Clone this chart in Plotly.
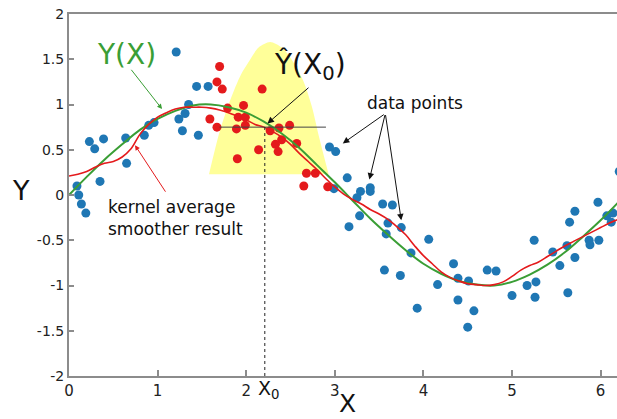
import plotly.graph_objects as go

# ---- data ----
blue_x = [0.09, 0.11, 0.14, 0.19, 0.23, 0.29, 0.39, 0.35, 0.64, 0.65, 0.85, 0.90, 0.96,
          1.21, 1.44, 1.57, 1.35, 1.31, 1.24, 1.28, 1.46,
          2.94, 3.01, 2.99, 3.14, 3.29, 3.25, 3.40, 3.40, 3.54, 3.65, 3.28, 3.16, 3.60, 3.58,
          3.75, 3.86, 4.06, 3.56, 3.74, 3.93, 4.16, 4.34, 4.39, 4.51, 4.39, 4.57, 4.50, 4.72,
          4.82, 5.00, 5.17, 5.26, 5.27, 5.25, 5.46, 5.54, 5.62, 5.63, 5.71, 5.65, 5.71, 5.87,
          5.88, 5.98, 5.97, 6.07, 6.14, 6.12, 6.21]
blue_y = [0.10, 0.00, -0.10, -0.20, 0.59, 0.51, 0.62, 0.15, 0.63, 0.35, 0.66, 0.77, 0.80,
          1.58, 1.20, 1.20, 1.00, 0.90, 0.84, 0.71, 0.66,
          0.53, 0.48, 0.07, 0.19, 0.04, -0.03, 0.08, 0.04, -0.10, -0.11, -0.23, -0.35, -0.31, -0.43,
          -0.36, -0.64, -0.49, -0.83, -0.89, -1.25, -0.99, -0.76, -0.92, -0.95, -1.16, -1.28, -1.46, -0.83,
          -0.84, -1.11, -1.00, -1.13, -0.96, -0.50, -0.63, -0.78, -0.56, -1.08, -0.69, -0.30, -0.18, -0.50,
          -0.55, -0.50, -0.08, -0.23, -0.20, -0.30, 0.26]

red_x = [1.70, 1.67, 1.73, 1.59, 1.67, 1.79, 1.97, 1.91, 1.99, 1.99, 1.89, 1.90, 2.14,
         2.18, 2.27, 2.37, 2.49, 2.40, 2.33, 2.36, 2.57, 2.68, 2.78, 2.65, 2.92]
red_y = [1.42, 1.25, 1.17, 0.84, 0.75, 0.96, 0.99, 0.86, 0.86, 0.77, 0.73, 0.40, 0.50,
         1.17, 0.71, 0.74, 0.77, 0.61, 0.56, 0.48, 0.57, 0.24, 0.24, 0.10, 0.09]

true_x = [0.0, 0.2, 0.4, 0.6, 0.8, 1.0, 1.2, 1.4, 1.6, 1.8, 2.0, 2.2, 2.4, 2.6, 2.8, 3.0,
          3.2, 3.4, 3.6, 3.8, 4.0, 4.2, 4.4, 4.6, 4.8, 5.0, 5.2, 5.4, 5.6, 5.8, 6.0, 6.2]
true_y = [0.00, 0.20, 0.39, 0.56, 0.72, 0.84, 0.93, 0.99, 1.00, 0.97, 0.91, 0.81, 0.68, 0.52,
          0.33, 0.14, -0.06, -0.26, -0.44, -0.61, -0.76, -0.87, -0.95, -0.99, -1.00, -0.96,
          -0.88, -0.77, -0.63, -0.46, -0.28, -0.08]

smooth_x = [0.0, 0.1, 0.2, 0.3, 0.4, 0.5, 0.6, 0.7, 0.8, 0.9, 1.0, 1.1, 1.2, 1.3, 1.4, 1.5,
            1.6, 1.7, 1.8, 1.9, 2.0, 2.1, 2.2, 2.3, 2.4, 2.5, 2.6, 2.7, 2.8, 2.9, 3.0, 3.1,
            3.2, 3.3, 3.4, 3.5, 3.6, 3.7, 3.8, 3.9, 4.0, 4.1, 4.2, 4.3, 4.4, 4.5, 4.6, 4.7,
            4.8, 4.9, 5.0, 5.1, 5.2, 5.3, 5.4, 5.5, 5.6, 5.7, 5.8, 5.9, 6.0, 6.1, 6.2]
smooth_y = [0.21, 0.23, 0.26, 0.31, 0.35, 0.37, 0.42, 0.51, 0.67, 0.78, 0.86, 0.91, 0.95,
            0.97, 0.97, 0.97, 0.96, 0.94, 0.91, 0.87, 0.83, 0.78, 0.75, 0.70, 0.64, 0.56,
            0.46, 0.37, 0.28, 0.18, 0.09, 0.01, -0.05, -0.10, -0.16, -0.21, -0.27, -0.35,
            -0.44, -0.56, -0.67, -0.76, -0.85, -0.91, -0.95, -0.98, -0.99, -1.00, -0.99,
            -0.96, -0.90, -0.83, -0.78, -0.74, -0.68, -0.62, -0.56, -0.51, -0.46, -0.41,
            -0.36, -0.31, -0.27]

kernel_x = [1.58, 1.70, 1.82, 1.94, 2.04, 2.14, 2.27, 2.40, 2.49, 2.64, 2.74, 2.83, 2.93]
kernel_y = [0.23, 0.70, 1.05, 1.33, 1.49, 1.63, 1.69, 1.63, 1.53, 1.27, 0.98, 0.61, 0.23]

x0 = 2.21
y0_hat = 0.75
window = [1.70, 2.90]

x_ticks = [0, 1, 2, 3, 4, 5, 6]
x_tick_text = ["0", "1", "2", "3", "4", "5", "6"]
y_ticks = [2, 1.5, 1, 0.5, 0, -0.5, -1, -1.5, -2]
y_tick_text = ["2", "1.5", "1", "0.5", "0", "-0.5", "-1", "-1.5", "-2"]

FONT = "DejaVu Sans"
BLUE = "#1f77b4"
RED = "#e41a1c"
GREEN = "#3a9e35"

fig = go.Figure()
fig.add_trace(go.Scatter(x=kernel_x, y=kernel_y, mode="lines", fill="toself",
                         fillcolor="#ffff99", line=dict(width=0, shape="spline", smoothing=0.8),
                         hoverinfo="skip"))
fig.add_trace(go.Scatter(x=blue_x, y=blue_y, mode="markers",
                         marker=dict(color=BLUE, size=9, line=dict(width=0))))
fig.add_trace(go.Scatter(x=red_x, y=red_y, mode="markers",
                         marker=dict(color=RED, size=9, line=dict(width=0))))
fig.add_trace(go.Scatter(x=true_x, y=true_y, mode="lines",
                         line=dict(color=GREEN, width=2, shape="spline")))
fig.add_trace(go.Scatter(x=smooth_x, y=smooth_y, mode="lines",
                         line=dict(color=RED, width=1.6, shape="spline")))

# horizontal estimate line and dashed vertical at X0
fig.add_shape(type="line", x0=window[0], x1=window[1], y0=y0_hat, y1=y0_hat,
              line=dict(color="#444", width=1))
fig.add_shape(type="line", x0=x0, x1=x0, y0=-2, y1=y0_hat,
              line=dict(color="#222", width=1, dash="dot"))

ann = []
ann.append(dict(x=1.05, y=0.95, ax=0.69, ay=1.40, axref="x", ayref="y", xref="x", yref="y",
                text="", showarrow=True, arrowhead=2, arrowsize=1, arrowwidth=1, arrowcolor=GREEN))
ann.append(dict(x=0.745, y=0.55, ax=1.10, ay=0.02, axref="x", ayref="y", xref="x", yref="y",
                text="", showarrow=True, arrowhead=2, arrowsize=1, arrowwidth=1, arrowcolor=RED))
ann.append(dict(x=2.24, y=0.79, ax=2.72, ay=1.20, axref="x", ayref="y", xref="x", yref="y",
                text="", showarrow=True, arrowhead=2, arrowsize=1.3, arrowwidth=1, arrowcolor="#111"))
for tx, ty in [(3.09, 0.57), (3.39, 0.17), (3.75, -0.28)]:
    ann.append(dict(x=tx, y=ty, ax=3.57, ay=0.90, axref="x", ayref="y", xref="x", yref="y",
                    text="", showarrow=True, arrowhead=2, arrowsize=1.3, arrowwidth=1,
                    arrowcolor="#111"))

labels = [
    dict(x=126, y=54, text="Y(X)", font=dict(family=FONT, size=28, color=GREEN)),
    dict(x=310, y=66, text="Ŷ(X<sub>0</sub>)", font=dict(family=FONT, size=28, color="#111")),
    dict(x=415, y=103, text="data points", font=dict(family=FONT, size=17, color="#111")),
    dict(x=106, y=218, text="kernel average<br>smoother result", xanchor="left", align="left",
         font=dict(family=FONT, size=17, color="#111")),
    dict(x=347, y=403, text="X", font=dict(family=FONT, size=25, color="#111")),
    dict(x=21, y=190, text="Y", font=dict(family=FONT, size=27, color="#111")),
    dict(x=269, y=389, text="X<sub>0</sub>", font=dict(family=FONT, size=19, color="#111")),
]
for lab in labels:
    px, py = lab["x"], lab["y"]
    lab["x"] = (px - 69) / 548
    lab["y"] = (376 - py) / 362
    lab.setdefault("xanchor", "center")
    lab["yanchor"] = "middle"
    lab["xref"] = "paper"
    lab["yref"] = "paper"
    lab["showarrow"] = False
    ann.append(lab)

fig.update_layout(
    width=617, height=419,
    margin=dict(l=69, r=0, t=14, b=43),
    paper_bgcolor="white", plot_bgcolor="white",
    showlegend=False,
    annotations=ann,
    font=dict(family=FONT, color="#222"),
)
fig.update_xaxes(range=[0, 6.185], tickvals=x_ticks, ticktext=x_tick_text,
                 showgrid=False, zeroline=False, showline=True, linecolor="#8c8c8c",
                 linewidth=2, mirror=True, ticks="inside", ticklen=6, tickcolor="#8c8c8c",
                 tickwidth=1.5, tickfont=dict(family=FONT, size=15, color="#222"))
fig.update_yaxes(range=[-2, 2], tickvals=y_ticks, ticktext=y_tick_text,
                 showgrid=False, zeroline=False, showline=True, linecolor="#8c8c8c",
                 linewidth=2, mirror=False, ticks="inside", ticklen=5, tickcolor="#8c8c8c",
                 tickwidth=1.5, ticklabelstandoff=0,
                 tickfont=dict(family=FONT, size=14, color="#222"))

fig.write_html("out.html")
